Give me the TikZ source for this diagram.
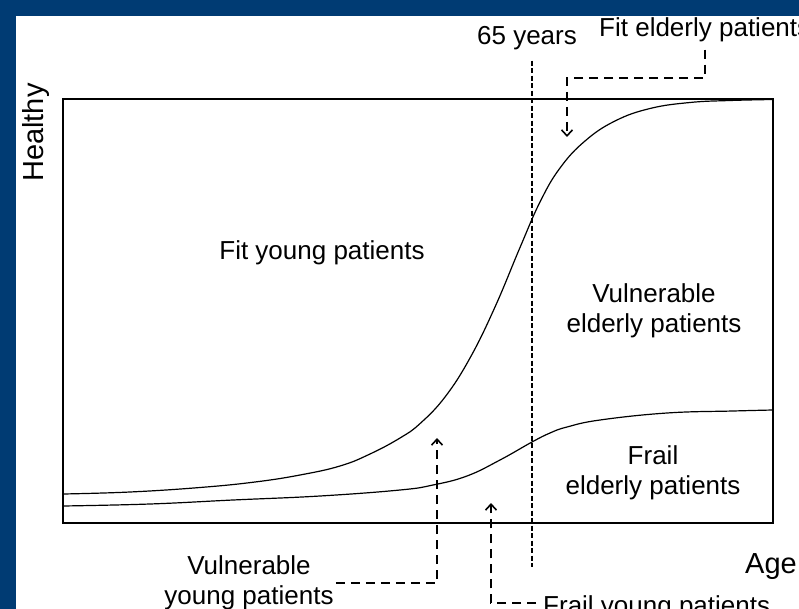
\documentclass[tikz,border=0pt]{standalone}
\usepackage{fontspec}
\setmainfont{Liberation Sans}
\usetikzlibrary{arrows.meta,positioning}
\definecolor{slideblue}{HTML}{003B73}

\begin{document}
\begin{tikzpicture}[x=1pt,y=-1pt,
  lbl/.style={font=\fontsize{26}{30}\selectfont, inner sep=2pt},
  axislbl/.style={font=\fontsize{29}{33}\selectfont, inner sep=0pt},
  pointer/.style={line width=1.6pt, dash pattern=on 9pt off 6pt,
    -{Straight Barb[length=6pt,width=11pt]}},
  agemark/.style={line width=1.6pt, dash pattern=on 5pt off 2.5pt},
  curve/.style={line width=1.2pt}]
\useasboundingbox (0,0) rectangle (799,609);
% Slide frame
\fill[slideblue] (0,0) rectangle (799,16);
\fill[slideblue] (0,0) rectangle (16,609);

% Axes box
\draw[line width=1.8pt] (63,99) rectangle (773,523);
\node[axislbl, rotate=90, anchor=base west] (healthy) at (43,182) {Healthy};
\node[axislbl, anchor=base west] (age) at (745,573) {Age};

% Boundary curves
\draw[curve] plot[smooth, tension=0.7] coordinates {(63,494) (130,492)
  (200,487.5) (255,482) (300,475) (340,466) (370,454) (400,438) (420,423.6)
  (445,397) (470,358) (495,307) (520,247.5) (540,202) (560,168) (585,141)
  (615,121) (650,108.5) (690,102.5) (730,100.5) (773,99.5)};
\draw[curve] plot[smooth, tension=0.7] coordinates {(63,506) (150,504) (233,500)
  (320,496) (400,490) (433,485) (467,476) (500,460) (532,442) (550,433)
  (567,427) (600,420) (667,413) (733,411) (773,410)};

% Regions
\node[lbl, anchor=base] (fityoung) at (322,259) {Fit young patients};
\node[lbl, align=center] (vulold) at (654,311) {Vulnerable\\elderly patients};
\node[lbl, align=center] (frailold) at (653,473) {Frail\\elderly patients};

% 65 years cut-off
\node[lbl, anchor=base] (sixtyfive) at (527,45) {65 years};
\coordinate (cutoff) at (532,567);
\draw[agemark] (sixtyfive.south -| cutoff) ++(0,8) -- (cutoff);

% Pointers
\node[lbl, anchor=base west] (fitold) at (597,37) {Fit elderly patients};
\coordinate (fitoldtip) at (567,137);
\draw[pointer] (fitold.south) ++(0,5) |- (fitoldtip |- 0,78) -- (fitoldtip);

\node[lbl, align=center] (vulyoung) at (249,583) {Vulnerable\\young patients};
\coordinate (vulyoungtip) at (437,438);
\draw[pointer] (vulyoung.east) -| (vulyoungtip);

\node[lbl, anchor=base west] (frailyoung) at (541,614) {Frail young patients};
\coordinate (frailyoungtip) at (491,503);
\draw[pointer] (frailyoung.west) ++(-5,-4) -| (frailyoungtip);
\end{tikzpicture}
\end{document}
